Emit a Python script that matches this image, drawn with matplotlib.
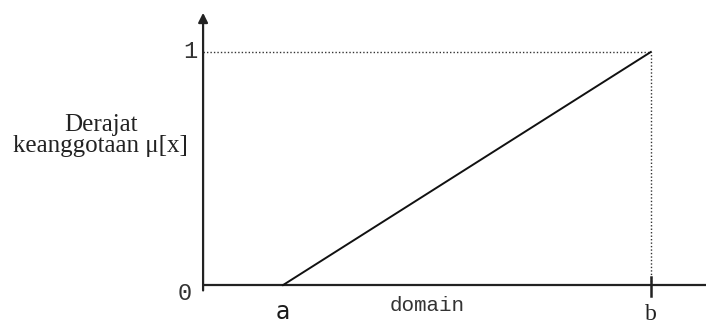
import matplotlib
import matplotlib.pyplot as plt

matplotlib.use('Agg')

# membership function: linear rise from a to b
x_points = [1.0, 5.6]  # a, b
mu_points = [0.0, 1.0]
x_labels = ['a', 'b']
y_labels = ['0', '1']
ylabel_text = 'Derajat\nkeanggotaan \u03bc[x]'
xlabel_text = 'domain'

fig = plt.figure(figsize=(7.06, 3.24), dpi=100)
ax = fig.add_axes([0, 0, 1, 1])
ax.set_xlim(-2.54, 6.29)
ax.set_ylim(-0.167, 1.223)
ax.axis('off')

a, b = x_points

# axes
ax.plot([0, 6.29], [0, 0], color='#222222', lw=1.6, solid_capstyle='butt')
ax.annotate('', xy=(0, 1.18), xytext=(0, -0.035),
            arrowprops=dict(arrowstyle='-|>', color='#222222', lw=1.6, mutation_scale=14))

# dotted guides to the top of the line
ax.plot([0, b], [1, 1], color='#333333', lw=1.0, linestyle=(0, (1, 1.5)))
ax.plot([b, b], [0, 1], color='#333333', lw=1.0, linestyle=(0, (1, 1.5)))

# tick at b
ax.plot([b, b], [-0.045, 0.035], color='#222222', lw=1.8)

# membership line
ax.plot(x_points, mu_points, color='#111111', lw=1.4)

# labels
ax.text(-0.07, 1, y_labels[1], family='Liberation Mono', fontsize=17, color='#333333',
        ha='right', va='center')
ax.text(-0.14, -0.035, y_labels[0], family='Liberation Mono', fontsize=17, color='#333333',
        ha='right', va='center')
ax.text(a, -0.065, x_labels[0], family='DejaVu Sans', fontsize=17, color='#1a1a1a',
        ha='center', va='top', fontweight='medium')
ax.text(b, -0.15, x_labels[1], family='Liberation Serif', fontsize=17, color='#222222',
        ha='center', va='baseline')
ax.text(2.8, -0.088, xlabel_text, family='Liberation Mono', fontsize=15, color='#333333',
        ha='center', va='center')
ax.text(-1.28, 0.64, ylabel_text, family='Liberation Serif', fontsize=18, color='#222222',
        ha='center', va='center', linespacing=0.95)

fig.savefig('out.png', dpi=100)
plt.close(fig)
